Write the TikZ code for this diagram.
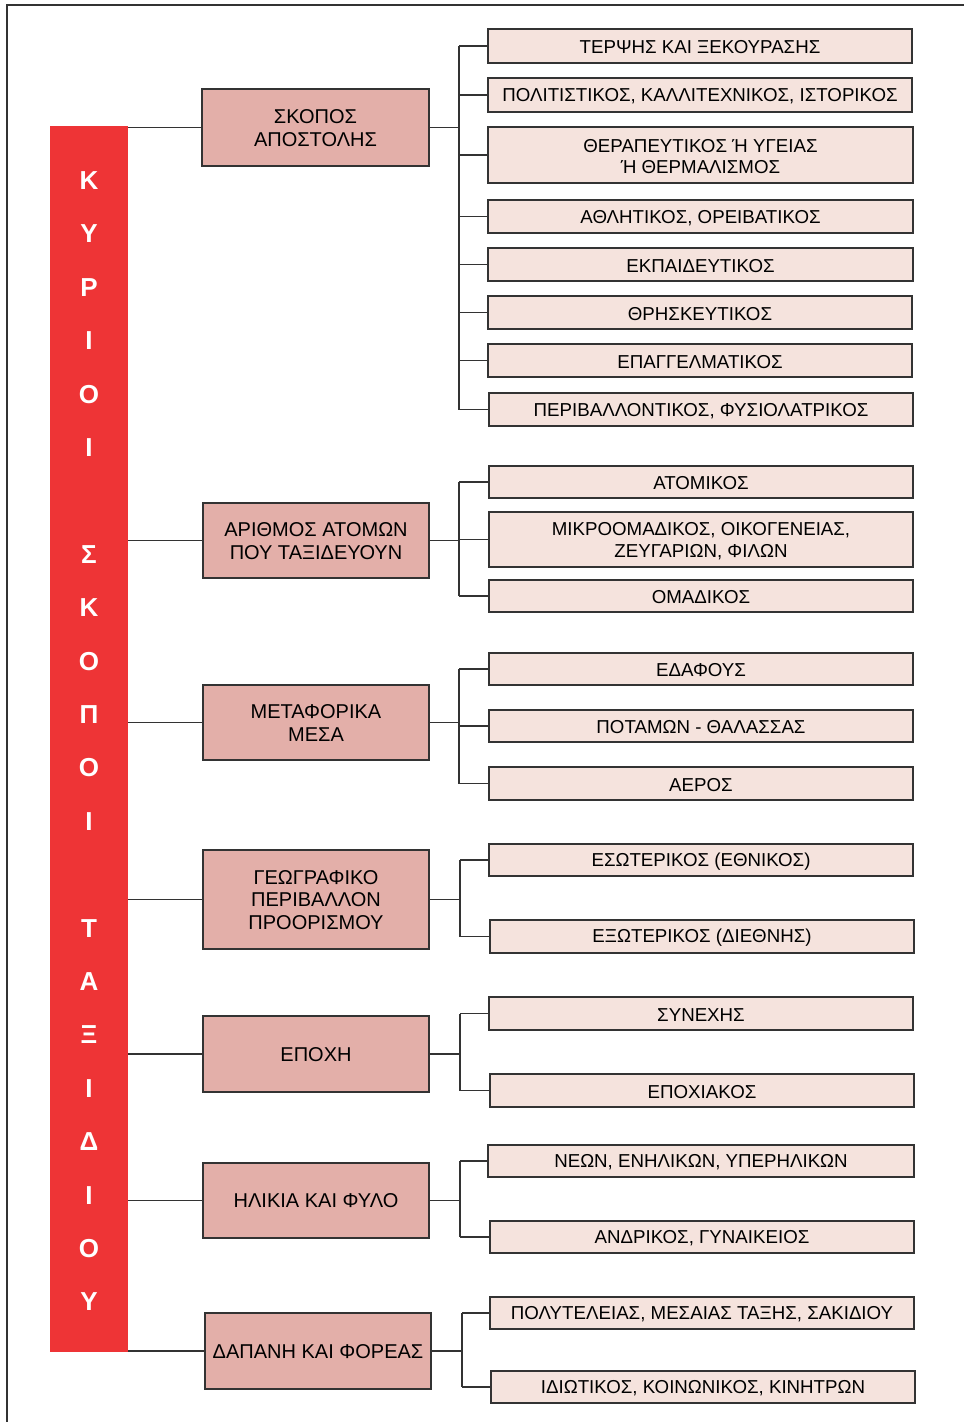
\documentclass[tikz,border=0pt]{standalone}
\usepackage{fontspec}
\setmainfont{Liberation Sans}
\definecolor{linegray}{RGB}{51,51,51}
\definecolor{barred}{RGB}{238,52,54}
\definecolor{mainfill}{RGB}{227,175,169}
\definecolor{subfill}{RGB}{245,227,221}
% boxes given by name, left, right, top and bottom edges, and label
\newcommand\catitem[6]{\node[mainbox, minimum width={(#3)-(#2)}, minimum height={(#5)-(#4)}]
    (#1) at ({((#2)+(#3))/2},{((#4)+(#5))/2}) {};
  \node[maintext] (#1-label) at ([yshift=-0.5pt]#1.center) {#6};}
\newcommand\childitem[6]{\node[subbox, minimum width={(#3)-(#2)}, minimum height={(#5)-(#4)}]
    (#1) at ({((#2)+(#3))/2},{((#4)+(#5))/2}) {};
  \node[subtext] (#1-label) at ([yshift=-1.5pt]#1.center) {#6};}
\begin{document}
\begin{tikzpicture}[x=1pt,y=-1pt,
  frame/.style={draw=linegray, line width=1.4pt},
  conn/.style={draw=linegray, line width=1.4pt},
  boxbase/.style={draw=linegray, line width=1.4pt, inner sep=0pt},
  mainbox/.style={boxbase, fill=mainfill},
  subbox/.style={boxbase, fill=subfill},
  maintext/.style={inner sep=0pt, align=center, font=\fontsize{20}{22.5}\selectfont},
  subtext/.style={inner sep=0pt, align=center, font=\fontsize{18.7}{21.5}\selectfont},
  letter/.style={text=white, inner sep=0pt, font=\fontsize{26}{26}\selectfont\bfseries}]
\useasboundingbox (0,0) rectangle (964,1422);

% page frame
\coordinate (frA) at (964,5);
\coordinate (frB) at (7,5);
\coordinate (frC) at (7,1422);
\draw[frame] (frA) -- (frB) -- (frC);

% red title bar
\node[fill=barred, minimum width=78pt, minimum height=1226pt, inner sep=0pt] (bar) at (89,739) {};
\foreach \k/\ch in {0/Κ,1/Υ,2/Ρ,3/Ι,4/Ο,5/Ι,
                    7/Σ,8/Κ,9/Ο,10/Π,11/Ο,12/Ι,
                    14/Τ,15/Α,16/Ξ,17/Ι,18/Δ,19/Ι,20/Ο,21/Υ}
  \node[letter] (ltr\k) at (89,{180.5+53.4*\k}) {\ch};

% main categories
\catitem{s1}{202}{429}{89}{166}{ΣΚΟΠΟΣ\\ΑΠΟΣΤΟΛΗΣ}
\catitem{s2}{203}{429}{503}{578}{ΑΡΙΘΜΟΣ ΑΤΟΜΩΝ\\ΠΟΥ ΤΑΞΙΔΕΥΟΥΝ}
\catitem{s3}{203}{429}{685}{760}{ΜΕΤΑΦΟΡΙΚΑ\\ΜΕΣΑ}
\catitem{s4}{203}{429}{850}{949}{ΓΕΩΓΡΑΦΙΚΟ\\ΠΕΡΙΒΑΛΛΟΝ\\ΠΡΟΟΡΙΣΜΟΥ}
\catitem{s5}{203}{429}{1016}{1092}{ΕΠΟΧΗ}
\catitem{s6}{203}{429}{1163}{1238}{ΗΛΙΚΙΑ ΚΑΙ ΦΥΛΟ}
\catitem{s7}{205}{431}{1313}{1389}{ΔΑΠΑΝΗ ΚΑΙ ΦΟΡΕΑΣ}

% purpose
\childitem{a1}{488}{912}{29}{63}{ΤΕΡΨΗΣ ΚΑΙ ΞΕΚΟΥΡΑΣΗΣ}
\childitem{a2}{488}{912}{78}{112}{ΠΟΛΙΤΙΣΤΙΚΟΣ, ΚΑΛΛΙΤΕΧΝΙΚΟΣ, ΙΣΤΟΡΙΚΟΣ}
\childitem{a3}{488}{913}{127}{183}{ΘΕΡΑΠΕΥΤΙΚΟΣ Ή ΥΓΕΙΑΣ\\Ή ΘΕΡΜΑΛΙΣΜΟΣ}
\childitem{a4}{488}{913}{200}{233}{ΑΘΛΗΤΙΚΟΣ, ΟΡΕΙΒΑΤΙΚΟΣ}
\childitem{a5}{488}{913}{248}{281}{ΕΚΠΑΙΔΕΥΤΙΚΟΣ}
\childitem{a6}{488}{912}{296}{329}{ΘΡΗΣΚΕΥΤΙΚΟΣ}
\childitem{a7}{488}{912}{344}{377}{ΕΠΑΓΓΕΛΜΑΤΙΚΟΣ}
\childitem{a8}{489}{913}{393}{426}{ΠΕΡΙΒΑΛΛΟΝΤΙΚΟΣ, ΦΥΣΙΟΛΑΤΡΙΚΟΣ}

% number of travellers
\childitem{b1}{489}{913}{466}{498}{ΑΤΟΜΙΚΟΣ}
\childitem{b2}{489}{913}{512}{567}{ΜΙΚΡΟΟΜΑΔΙΚΟΣ, ΟΙΚΟΓΕΝΕΙΑΣ,\\ΖΕΥΓΑΡΙΩΝ, ΦΙΛΩΝ}
\childitem{b3}{489}{913}{580}{612}{ΟΜΑΔΙΚΟΣ}

% means of transport
\childitem{c1}{489}{913}{653}{685}{ΕΔΑΦΟΥΣ}
\childitem{c2}{489}{913}{710}{742}{ΠΟΤΑΜΩΝ - ΘΑΛΑΣΣΑΣ}
\childitem{c3}{489}{913}{767}{800}{ΑΕΡΟΣ}

% destination
\childitem{d1}{489}{913}{844}{876}{ΕΣΩΤΕΡΙΚΟΣ (ΕΘΝΙΚΟΣ)}
\childitem{d2}{490}{914}{920}{953}{ΕΞΩΤΕΡΙΚΟΣ (ΔΙΕΘΝΗΣ)}

% season
\childitem{e1}{489}{913}{997}{1030}{ΣΥΝΕΧΗΣ}
\childitem{e2}{490}{914}{1074}{1107}{ΕΠΟΧΙΑΚΟΣ}

% age and sex
\childitem{f1}{488}{914}{1145}{1177}{ΝΕΩΝ, ΕΝΗΛΙΚΩΝ, ΥΠΕΡΗΛΙΚΩΝ}
\childitem{f2}{490}{914}{1221}{1253}{ΑΝΔΡΙΚΟΣ, ΓΥΝΑΙΚΕΙΟΣ}

% cost and organiser
\childitem{g1}{490}{914}{1297}{1329}{ΠΟΛΥΤΕΛΕΙΑΣ, ΜΕΣΑΙΑΣ ΤΑΞΗΣ, ΣΑΚΙΔΙΟΥ}
\childitem{g2}{491}{915}{1371}{1403}{ΙΔΙΩΤΙΚΟΣ, ΚΟΙΝΩΝΙΚΟΣ, ΚΙΝΗΤΡΩΝ}

% bar to main categories
\foreach \s in {s1,s2,s3,s4,s5,s6,s7}
  \draw[conn] (bar.east |- \s.west) -- (\s.west);

% vertical buses of each group
\coordinate (j1) at (459,0);
\coordinate (j2) at (459,0);
\coordinate (j3) at (459,0);
\coordinate (j4) at (460,0);
\coordinate (j5) at (460,0);
\coordinate (j6) at (460,0);
\coordinate (j7) at (462,0);

\foreach \s/\j/\first/\last/\kids in {
    s1/j1/a1/a8/{a1,a2,a3,a4,a5,a6,a7,a8},
    s2/j2/b1/b3/{b1,b2,b3},
    s3/j3/c1/c3/{c1,c2,c3},
    s4/j4/d1/d2/{d1,d2},
    s5/j5/e1/e2/{e1,e2},
    s6/j6/f1/f2/{f1,f2},
    s7/j7/g1/g2/{g1,g2}} {
  \draw[conn] (\s.east) -- (\s.east -| \j);
  \draw[conn] (\first.west -| \j) -- (\last.west -| \j);
  \foreach \c in \kids
    \draw[conn] (\c.west -| \j) -- (\c.west);
}
\end{tikzpicture}
\end{document}
